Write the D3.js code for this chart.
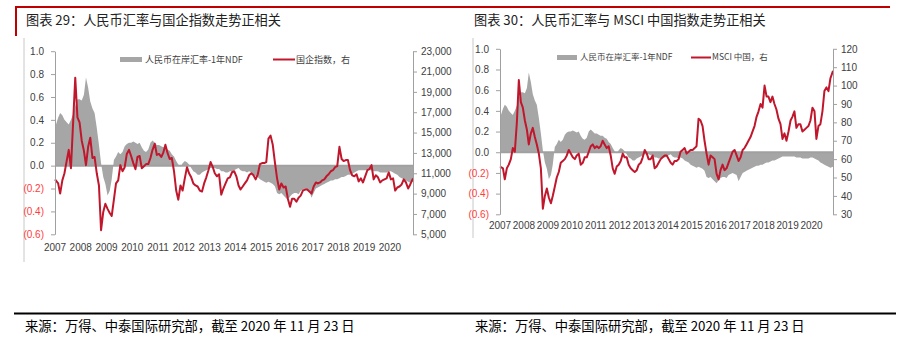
<!DOCTYPE html>
<html><head><meta charset="utf-8">
<script src="https://cdn.jsdelivr.net/npm/d3@7"></script>
<style>
body{margin:0;background:#fff;}
svg{display:block;}
</style></head>
<body><svg id="c" width="900" height="340"></svg>
<script>
// ---------------- data ----------------
const years = [2007,2008,2009,2010,2011,2012,2013,2014,2015,2016,2017,2018,2019,2020];
const leftTicks = [1.0,0.8,0.6,0.4,0.2,0.0,-0.2,-0.4,-0.6];
const hsceiTicks = [23000,21000,19000,17000,15000,13000,11000,9000,7000,5000];
const msciTicks = [120,110,100,90,80,70,60,50,40,30];
const startDate = new Date(2007,0,1);
const endDate = new Date(2020,10,23);

// 人民币在岸汇率-1年NDF (monthly, Jan 2007 - Nov 2020)
const ndfSpread = [
 0.33,0.42,0.46,0.44,0.40,0.38,0.36,0.40,0.45,0.52,0.58,0.58,
 0.57,0.62,0.77,0.68,0.56,0.50,0.46,0.33,0.18,0.02,-0.10,-0.16,
 -0.26,-0.22,-0.12,0.05,0.08,0.12,0.10,0.12,0.17,0.19,0.20,0.20,
 0.21,0.20,0.19,0.20,0.16,0.13,0.12,0.14,0.20,0.22,0.20,0.18,
 0.18,0.17,0.16,0.16,0.14,0.13,0.10,0.08,0.04,0.01,-0.01,0.02,
 0.04,0.03,0.01,-0.02,-0.05,-0.06,-0.08,-0.08,-0.06,-0.05,-0.04,-0.03,
 -0.02,-0.02,-0.02,-0.03,-0.03,-0.05,-0.05,-0.06,-0.06,-0.05,-0.05,-0.04,
 -0.03,-0.02,-0.04,-0.05,-0.05,-0.06,-0.05,-0.06,-0.08,-0.09,-0.10,-0.12,
 -0.13,-0.14,-0.15,-0.14,-0.15,-0.16,-0.18,-0.24,-0.25,-0.24,-0.26,-0.28,
 -0.30,-0.27,-0.25,-0.24,-0.24,-0.25,-0.22,-0.21,-0.20,-0.21,-0.22,-0.28,
 -0.24,-0.20,-0.19,-0.18,-0.17,-0.16,-0.15,-0.14,-0.13,-0.13,-0.12,-0.12,
 -0.11,-0.10,-0.10,-0.09,-0.08,-0.08,-0.07,-0.06,-0.05,-0.04,-0.04,-0.04,
 -0.04,-0.04,-0.04,-0.04,-0.05,-0.05,-0.05,-0.06,-0.06,-0.06,-0.06,-0.05,
 -0.05,-0.06,-0.07,-0.08,-0.10,-0.11,-0.12,-0.13,-0.14,-0.15,-0.14
];

// 国企指数 (monthly)
const hscei = [
 10400,10000,9000,10300,11000,12200,13300,11500,16000,20400,16500,16000,
 14200,13200,11800,13600,14500,12500,12600,11000,9800,5400,7200,8000,
 7500,7100,6800,8400,10000,10300,11800,11200,11600,12900,13300,12700,
 12000,11400,12600,12700,11500,11700,11900,11900,12500,13300,13900,12800,
 12900,12600,13000,13800,13000,12400,12500,11200,9300,8400,9800,9300,
 10500,11600,11000,10600,10000,9800,9700,9300,9200,10000,10600,11300,
 12100,11600,11000,10700,10900,8900,9500,10000,10500,10600,11100,11200,
 10700,9800,9400,9700,10000,10300,10800,11000,10800,10400,10900,11900,
 12000,12000,12100,14400,14700,13800,12100,10500,9400,10000,9600,9700,
 8500,7700,8500,8500,8200,8600,8800,9300,9400,9400,9200,9000,
 9700,10100,10000,10100,10300,10400,10700,10900,11200,11300,11600,11700,
 13600,12400,12200,12300,12300,11300,10800,10700,10900,10200,10500,10100,
 10700,11300,11400,11800,10400,10800,10600,10100,10300,10400,10500,11100,
 10400,10500,9300,9600,9700,9900,10400,10100,9500,9900,10500
];

// MSCI 中国 (monthly)
const msciChina = [
 56,55,49,55,57,60,66,64,80,103,91,88,
 81,76,68,74,77,72,68,63,55,33,40,44,
 39,36,40,45,50,53,58,59,60,62,65,63,
 61,60,62,63,57,58,61,61,64,67,68,66,
 67,66,67,70,68,66,67,62,55,52,56,57,
 59,63,61,61,57,55,54,53,54,57,58,61,
 65,63,60,60,62,55,56,58,60,61,62,62,
 60,58,57,59,59,60,64,65,66,63,64,65,
 65,66,67,82,81,78,70,63,57,62,61,60,
 52,49,54,57,54,55,58,61,64,65,62,59,
 61,65,66,68,70,72,75,78,83,86,90,88,
 100,94,94,91,94,90,87,82,79,71,74,70,
 75,81,83,86,77,79,79,75,76,77,78,81,
 88,86,71,78,79,86,97,99,97,104,108
];

// ---------------- drawing ----------------
const n = ndfSpread.length;
const dates = ndfSpread.map((_, i) => i === 0 ? startDate : (i === n - 1 ? endDate : new Date(2007, i, 15)));

const svg = d3.select("#c");
const RED = "#c0172d";
const FRAME = "#c00000";
const GRAY = "#a6a6a6";
const CJK = "'Noto Sans CJK SC', sans-serif";
const NUM = "'Liberation Sans', Arial, sans-serif";

// top red frame
svg.append("line").attr("x1",15).attr("x2",890).attr("y1",7).attr("y2",7)
  .attr("stroke",FRAME).attr("stroke-width",2);
svg.append("line").attr("x1",16).attr("x2",16).attr("y1",6).attr("y2",36)
  .attr("stroke",FRAME).attr("stroke-width",2);

// bottom line and sources
svg.append("line").attr("x1",14).attr("x2",896).attr("y1",313.5).attr("y2",313.5)
  .attr("stroke","#000").attr("stroke-width",2);
["来源：万得、中泰国际研究部，截至 2020 年 11 月 23 日","来源：万得、中泰国际研究部，截至 2020 年 11 月 23 日"]
 .forEach((t,i)=>{
  svg.append("text").attr("x", i===0?25:475).attr("y",331)
   .attr("font-family",CJK).attr("font-size",13.3).attr("fill","#000").text(t);
 });

function panel(o){
  const g = svg.append("g");
  // title
  g.append("text").attr("x",o.titleX).attr("y",25).attr("font-family",CJK)
    .attr("font-size",13.2).attr("fill","#222").text(o.title);
  // left gray separator
  g.append("line").attr("x1",o.sepX).attr("x2",o.sepX).attr("y1",38).attr("y2",o.sepY2)
    .attr("stroke","#c8c8c8").attr("stroke-width",1);

  const x = d3.scaleTime().domain([startDate,endDate]).range([o.x0,o.x1]);
  const yL = d3.scaleLinear().domain([-0.6,1.0]).range([o.yBot,o.yTop]);
  const yR = d3.scaleLinear().domain(o.rDomain).range([o.yBot,o.yTop]);

  // gray area
  const area = d3.area().x((d,i)=>x(dates[i])).y0(yL(0)).y1(d=>yL(d));
  g.append("path").datum(ndfSpread).attr("d",area).attr("fill",GRAY);
  // zero line
  g.append("line").attr("x1",o.x0).attr("x2",o.x1).attr("y1",yL(0)).attr("y2",yL(0))
    .attr("stroke","#a0a0a0").attr("stroke-width",2);
  // red line
  const line = d3.line().x((d,i)=>x(dates[i])).y(d=>yR(d));
  g.append("path").datum(o.series).attr("d",line).attr("fill","none")
    .attr("stroke",RED).attr("stroke-width",2).attr("stroke-linejoin","round");

  // left axis
  const axL = g.append("g").attr("transform",`translate(${o.x0},0)`)
    .call(d3.axisLeft(yL).tickValues(leftTicks).tickSize(4).tickSizeOuter(0).tickPadding(7)
      .tickFormat(v => v < 0 ? "(" + Math.abs(v).toFixed(1) + ")" : v.toFixed(1)));
  axL.select(".domain").attr("stroke","#a0a0a0");
  axL.selectAll(".tick line").attr("stroke","#a0a0a0");
  axL.selectAll(".tick text").attr("font-family",NUM).attr("font-size",10)
    .attr("fill", d => d < 0 ? "#ff3b3b" : "#404040");

  // right axis
  const axR = g.append("g").attr("transform",`translate(${o.x1},0)`)
    .call(d3.axisRight(yR).tickValues(o.rTicks).tickSize(4).tickSizeOuter(0).tickPadding(4)
      .tickFormat(o.rFormat));
  axR.select(".domain").attr("stroke","#a0a0a0");
  axR.selectAll(".tick line").attr("stroke","#a0a0a0");
  axR.selectAll(".tick text").attr("font-family",NUM).attr("font-size",10).attr("fill","#404040");

  // year labels
  g.selectAll("text.yr").data(years).enter().append("text").attr("class","yr")
    .attr("x",d=>x(new Date(d,0,1))).attr("y",o.yearY).attr("text-anchor","middle")
    .attr("font-family",NUM).attr("font-size",10).attr("fill","#404040").text(d=>d);

  // legend
  g.append("rect").attr("x",o.lg1).attr("y",o.lgY-2.5).attr("width",o.lgW).attr("height",5).attr("fill",GRAY);
  g.append("text").attr("x",o.lg1+o.lgW+3).attr("y",o.lgY).attr("dy","0.35em")
    .attr("font-family",CJK).attr("font-size",o.lgFont).attr("fill","#404040").text("人民币在岸汇率-1年NDF");
  g.append("line").attr("x1",o.lg2).attr("x2",o.lg2+o.lgW).attr("y1",o.lgY).attr("y2",o.lgY)
    .attr("stroke",RED).attr("stroke-width",2);
  g.append("text").attr("x",o.lg2+o.lgW+1).attr("y",o.lgY).attr("dy","0.35em")
    .attr("font-family",CJK).attr("font-size",o.lgFont).attr("fill","#404040").text(o.legend);
}

panel({
  title:"图表 29：人民币汇率与国企指数走势正相关", titleX:26, sepX:24, sepY2:262,
  x0:55, x1:413, yTop:51.2, yBot:234.3, rDomain:[5000,23000], rTicks:hsceiTicks,
  rFormat:d3.format(","), series:hscei, yearY:251,
  lg1:120, lg2:273, lgW:22, lgY:59.5, lgFont:9, legend:"国企指数，右"
});
panel({
  title:"图表 30：人民币汇率与 MSCI 中国指数走势正相关", titleX:474, sepX:473, sepY2:238,
  x0:500, x1:833, yTop:48.8, yBot:214.3, rDomain:[30,120], rTicks:msciTicks,
  rFormat:d3.format("d"), series:msciChina, yearY:229,
  lg1:557, lg2:691, lgW:20, lgY:57.5, lgFont:8.5, legend:"MSCI 中国，右"
});
</script>
</body></html>
